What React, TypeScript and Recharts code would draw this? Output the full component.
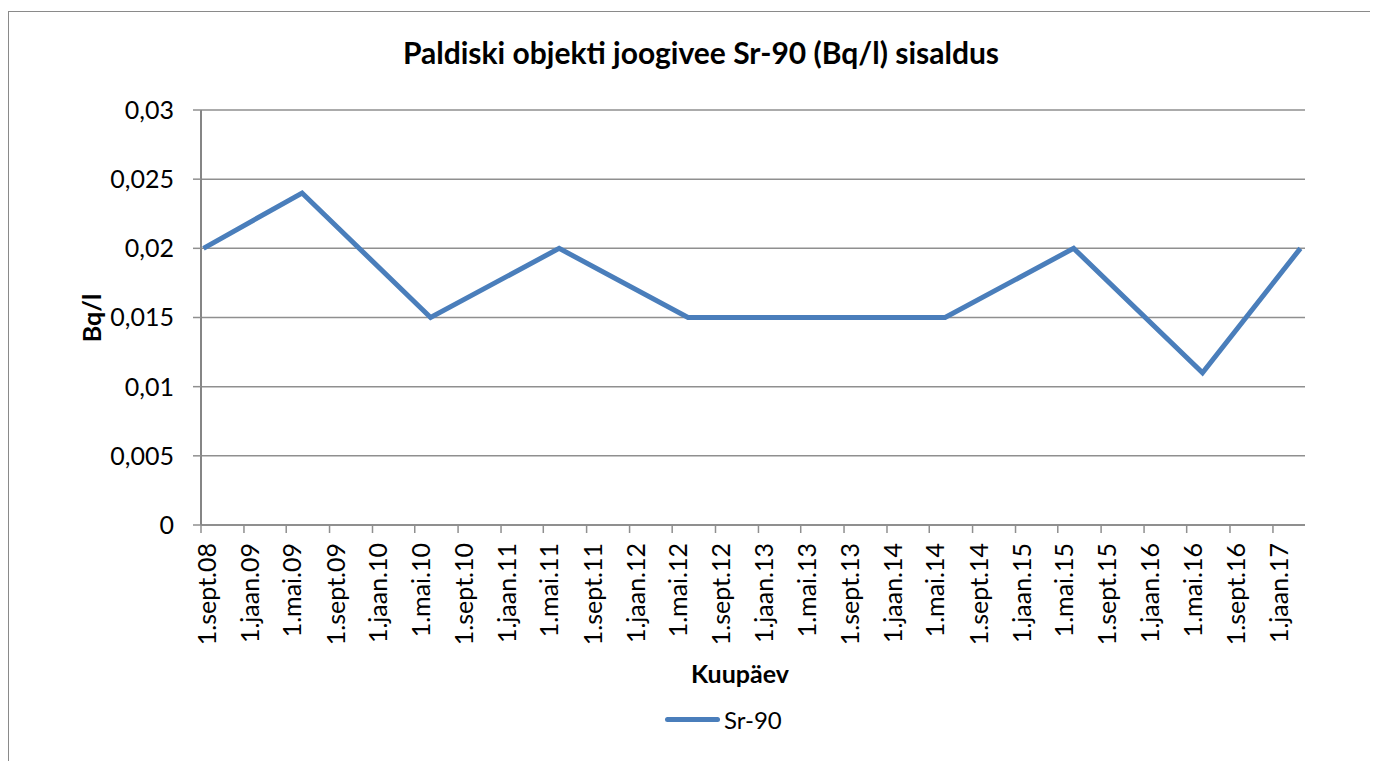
import React from 'react';
import { LineChart, Line, XAxis, YAxis, CartesianGrid, Label } from 'recharts';

// ---- data ----
const sampleDates = [
  '2008-09-08', '2009-06-15', '2010-06-15', '2011-06-15', '2012-06-15',
  '2013-06-15', '2014-06-15', '2015-06-15', '2016-06-15', '2017-03-20',
];
const sr90Values = [0.02, 0.024, 0.015, 0.02, 0.015, 0.015, 0.015, 0.02, 0.011, 0.02];

const xTickDates = [
  '2008-09-01', '2009-01-01', '2009-05-01', '2009-09-01', '2010-01-01', '2010-05-01',
  '2010-09-01', '2011-01-01', '2011-05-01', '2011-09-01', '2012-01-01', '2012-05-01',
  '2012-09-01', '2013-01-01', '2013-05-01', '2013-09-01', '2014-01-01', '2014-05-01',
  '2014-09-01', '2015-01-01', '2015-05-01', '2015-09-01', '2016-01-01', '2016-05-01',
  '2016-09-01', '2017-01-01',
];
const xTickLabels = [
  '1.sept.08', '1.jaan.09', '1.mai.09', '1.sept.09', '1.jaan.10', '1.mai.10',
  '1.sept.10', '1.jaan.11', '1.mai.11', '1.sept.11', '1.jaan.12', '1.mai.12',
  '1.sept.12', '1.jaan.13', '1.mai.13', '1.sept.13', '1.jaan.14', '1.mai.14',
  '1.sept.14', '1.jaan.15', '1.mai.15', '1.sept.15', '1.jaan.16', '1.mai.16',
  '1.sept.16', '1.jaan.17',
];
const xDomainDates = ['2008-09-01', '2017-04-02'];

const yTicks = [0, 0.005, 0.01, 0.015, 0.02, 0.025, 0.03];
const yTickLabels = ['0', '0,005', '0,01', '0,015', '0,02', '0,025', '0,03'];

const titleText = 'Paldiski objekti joogivee Sr-90 (Bq/l) sisaldus';
const xAxisTitle = 'Kuupäev';
const yAxisTitle = 'Bq/l';
const seriesName = 'Sr-90';

// ---- helpers ----
const toTs = (s: string) => Date.parse(s + 'T00:00:00Z');
const chartData = sampleDates.map((d, i) => ({ t: toTs(d), v: sr90Values[i] }));
const xTicks = xTickDates.map(toTs);
const xDomain = xDomainDates.map(toTs);

const FONT = 'Lato, "Open Sans", sans-serif';
const LINE_COLOR = '#4A7EBB';
const GRID_COLOR = '#8f8f8f';
const TICK_FS = 25;

const XTick = (props: any) => {
  const { x, y, payload } = props;
  const idx = xTicks.indexOf(payload.value);
  const tx = x + 15;
  return (
    <text
      x={tx}
      y={y}
      transform={`rotate(-90 ${tx} ${y})`}
      textAnchor="end"
      fontSize={TICK_FS}
      fontFamily={FONT}
      fill="#000"
    >
      {idx >= 0 ? xTickLabels[idx] : ''}
    </text>
  );
};

export default function App() {
  return (
    <div style={{ position: 'relative', width: 1370, height: 753 }}>
      <div
        style={{
          position: 'absolute',
          left: 0,
          top: 3,
          width: 1400,
          height: 780,
          borderTop: '1px solid #8a8a8a',
          borderLeft: '1.5px solid #8a8a8a',
          boxSizing: 'border-box',
        }}
      />
      <div
        style={{
          position: 'absolute',
          left: 0,
          width: 1386,
          top: 26,
          textAlign: 'center',
          fontFamily: FONT,
          fontWeight: 'bold',
          fontSize: 30,
          color: '#000',
          lineHeight: '36px',
        }}
      >
        {titleText}
      </div>
      <div style={{ position: 'absolute', left: 0, top: 0 }}>
        <LineChart
          width={1370}
          height={750}
          data={chartData}
          margin={{ top: 102, right: 73, left: 0, bottom: 0 }}
        >
          <CartesianGrid vertical={false} stroke={GRID_COLOR} strokeWidth={1.5} />
          <XAxis
            dataKey="t"
            type="number"
            domain={xDomain}
            ticks={xTicks}
            interval={0}
            allowDataOverflow
            height={233}
            tickSize={8}
            tickMargin={10}
            tick={<XTick />}
            axisLine={{ stroke: GRID_COLOR, strokeWidth: 2 }}
            tickLine={{ stroke: GRID_COLOR, strokeWidth: 1.5 }}
          >
            <Label
              content={() => (
                <text
                  x={732}
                  y={665}
                  textAnchor="middle"
                  dominantBaseline="central"
                  fontFamily={FONT}
                  fontWeight="bold"
                  fontSize={25}
                  fill="#000"
                >
                  {xAxisTitle}
                </text>
              )}
            />
          </XAxis>
          <YAxis
            type="number"
            domain={[0, 0.03]}
            ticks={yTicks}
            interval={0}
            width={193}
            tickSize={8}
            tickMargin={19}
            tickFormatter={(v: number) => {
              const i = yTicks.indexOf(v);
              return i >= 0 ? yTickLabels[i] : String(v);
            }}
            tick={{ fontSize: TICK_FS, fontFamily: FONT, fill: '#000' }}
            axisLine={{ stroke: '#858585', strokeWidth: 2 }}
            tickLine={{ stroke: GRID_COLOR, strokeWidth: 1.5 }}
          >
            <Label
              content={() => (
                <text
                  x={83}
                  y={310}
                  transform="rotate(-90 83 310)"
                  textAnchor="middle"
                  dominantBaseline="central"
                  fontFamily={FONT}
                  fontWeight="bold"
                  fontSize={25}
                  fill="#000"
                >
                  {yAxisTitle}
                </text>
              )}
            />
          </YAxis>
          <Line
            type="linear"
            dataKey="v"
            name={seriesName}
            stroke={LINE_COLOR}
            strokeWidth={5}
            dot={false}
            activeDot={false}
            isAnimationActive={false}
          />
        </LineChart>
      </div>
      <div
        style={{
          position: 'absolute',
          left: 657,
          top: 696,
          display: 'flex',
          alignItems: 'center',
          fontFamily: FONT,
          fontSize: 24,
          color: '#000',
          height: 30,
        }}
      >
        <div style={{ width: 55, height: 5, background: LINE_COLOR, borderRadius: 3 }} />
        <span style={{ marginLeft: 4 }}>{seriesName}</span>
      </div>
    </div>
  );
}
